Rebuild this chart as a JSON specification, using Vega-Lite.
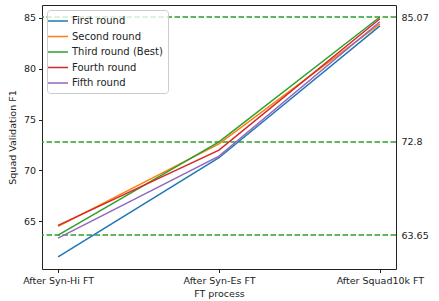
{
  "$schema": "https://vega.github.io/schema/vega-lite/v6.json",
  "width": 354,
  "height": 264,
  "autosize": "none",
  "padding": {"left": 42, "top": 5, "right": 43, "bottom": 32},
  "config": {
    "font": "DejaVu Sans",
    "view": {"stroke": "#222", "strokeWidth": 1},
    "axis": {"labelFont": "DejaVu Sans", "titleFont": "DejaVu Sans", "labelFontSize": 9.5, "titleFontSize": 9.5, "titleFontWeight": "normal", "labelColor": "#222", "titleColor": "#222", "tickColor": "#222", "domain": false, "grid": false, "tickSize": 3.5, "labelPadding": 3}
  },
  "datasets": {
    "rounds": [
      {"stage": "After Syn-Hi FT", "round": "First round", "f1": 61.5},
      {"stage": "After Syn-Es FT", "round": "First round", "f1": 71.25},
      {"stage": "After Squad10k FT", "round": "First round", "f1": 84.2},
      {"stage": "After Syn-Hi FT", "round": "Second round", "f1": 64.5},
      {"stage": "After Syn-Es FT", "round": "Second round", "f1": 72.6},
      {"stage": "After Squad10k FT", "round": "Second round", "f1": 84.4},
      {"stage": "After Syn-Hi FT", "round": "Third round (Best)", "f1": 63.65},
      {"stage": "After Syn-Es FT", "round": "Third round (Best)", "f1": 72.8},
      {"stage": "After Squad10k FT", "round": "Third round (Best)", "f1": 85.07},
      {"stage": "After Syn-Hi FT", "round": "Fourth round", "f1": 64.6},
      {"stage": "After Syn-Es FT", "round": "Fourth round", "f1": 72.0},
      {"stage": "After Squad10k FT", "round": "Fourth round", "f1": 84.9},
      {"stage": "After Syn-Hi FT", "round": "Fifth round", "f1": 63.35},
      {"stage": "After Syn-Es FT", "round": "Fifth round", "f1": 71.4},
      {"stage": "After Squad10k FT", "round": "Fifth round", "f1": 84.6}
    ],
    "best": [
      {"f1": 63.65},
      {"f1": 72.8},
      {"f1": 85.07}
    ]
  },
  "layer": [
    {
      "data": {"name": "best"},
      "mark": {"type": "rule", "color": "#2ca02c", "strokeWidth": 1.5, "strokeDash": [5.5, 2.5]},
      "encoding": {
        "y": {
          "field": "f1", "type": "quantitative",
          "scale": {"domain": [60.32, 86.25], "nice": false, "zero": false},
          "axis": {"orient": "right", "values": [63.65, 72.8, 85.07], "labelExpr": "'' + datum.value", "ticks": false, "labelPadding": 5, "title": null}
        }
      }
    },
    {
      "data": {"name": "rounds"},
      "mark": {"type": "line", "strokeWidth": 1.5},
      "encoding": {
        "x": {
          "field": "stage", "type": "ordinal",
          "sort": ["After Syn-Hi FT", "After Syn-Es FT", "After Squad10k FT"],
          "scale": {"type": "point", "padding": 0.1},
          "axis": {"title": "FT process", "labelAngle": 0, "titlePadding": 3}
        },
        "y": {
          "field": "f1", "type": "quantitative",
          "scale": {"domain": [60.32, 86.25], "nice": false, "zero": false},
          "axis": {"orient": "left", "values": [65, 70, 75, 80, 85], "title": "Squad Validation F1", "titlePadding": 6}
        },
        "color": {
          "field": "round", "type": "nominal",
          "scale": {
            "domain": ["First round", "Second round", "Third round (Best)", "Fourth round", "Fifth round"],
            "range": ["#1f77b4", "#ff7f0e", "#2ca02c", "#d62728", "#9467bd"]
          },
          "legend": {
            "title": null, "orient": "top-left", "offset": 5, "padding": 5,
            "symbolType": "M-2,0H2", "symbolSize": 100, "symbolStrokeWidth": 1.5,
            "labelFontSize": 10, "labelFont": "DejaVu Sans", "labelColor": "#222",
            "labelOffset": 8, "rowPadding": 4.5,
            "strokeColor": "#ccc", "fillColor": "rgba(255,255,255,0.8)", "cornerRadius": 3
          }
        }
      }
    }
  ],
  "resolve": {"scale": {"y": "independent"}, "axis": {"y": "independent"}}
}
